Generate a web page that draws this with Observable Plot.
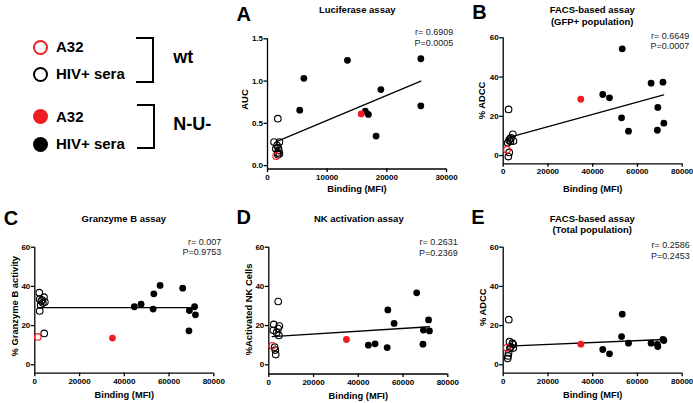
<!DOCTYPE html>
<html><head><meta charset="utf-8">
<script src="https://cdn.jsdelivr.net/npm/d3@7"></script>
<script src="https://cdn.jsdelivr.net/npm/@observablehq/plot@0.6"></script>
<style>
body{margin:0;background:#fff;}
#fig{position:relative;width:693px;height:403px;overflow:hidden;font-family:"Liberation Sans",Arial,Helvetica,sans-serif;background:#fff;}
#fig svg{position:absolute;left:0;top:0;}
.lgc{position:absolute;box-sizing:border-box;border-radius:50%;}
.lgt{position:absolute;font-weight:bold;white-space:nowrap;}
.br{position:absolute;box-sizing:border-box;border:2.7px solid #000;border-left:none;}
</style></head><body><div id="fig"></div>
<script>
// ---------------- DATA ----------------
const RED = "#ee1d23";

// Panel A: Luciferase assay (AUC vs Binding MFI)
const aWtBinding = [1100, 2000, 1600, 1800, 1900, 1700, 2000, 1750, 1400, 1730];
const aWtAUC     = [0.278, 0.278, 0.239, 0.21, 0.18, 0.15, 0.14, 0.13, 0.20, 0.555];
const aWtA32     = [1450, 0.112];
const aNuBinding = [5400, 6100, 13400, 16400, 16900, 18200, 19000, 25700, 25700];
const aNuAUC     = [0.656, 1.033, 1.245, 0.644, 0.605, 0.349, 0.899, 1.264, 0.707];
const aNuA32     = [15700, 0.612];
const aFitX = [1500, 25700], aFitY = [0.283, 1.0];
const aStats = ["r= 0.6909", "P=0.0005"];

// Shared binding for N-U- sera (panels B–E)
const nuBinding = [44500, 47500, 52900, 53200, 56000, 66100, 68900, 69100, 71400, 71800];
const nuA32Binding = 34700;

// Panel B: FACS-based assay (GFP+ population)
const bWtBinding = [2400, 4300, 3500, 2600, 3200, 4600, 2000, 2700, 2300, 3000];
const bWtADCC    = [23.5, 10.8, 9.0, 7.8, 7.2, 7.4, 6.5, 1.6, -0.5, 8.5];
const bWtA32     = [1700, 3.0];
const bNuADCC    = [31.1, 29.4, 19.2, 54.4, 12.4, 36.9, 12.9, 24.5, 37.4, 16.5];
const bNuA32     = 28.7;
const bFitX = [3000, 71700], bFitY = [9.35, 30.9];
const bStats = ["r= 0.6649", "P=0.0007"];

// Panel C: Granzyme B assay
const cWtBinding = [2000, 4100, 2200, 3300, 4500, 2600, 3600, 2200, 4200, 2900];
const cWtGzB     = [36.8, 34.5, 33.5, 33.0, 32.0, 30.5, 31.5, 27.5, 16.0, 32.5];
const cWtA32     = [1300, 14.2];
const cNuGzB     = [29.6, 30.9, 28.4, 36.2, 40.5, 39.1, 17.3, 27.7, 29.6, 25.5];
const cNuA32     = 13.6;
const cFitX = [1800, 71800], cFitY = [29.2, 29.2];
const cStats = ["r= 0.007", "P=0.9753"];

// Panel D: NK activation assay
const dWtBinding = [4200, 2200, 4700, 4200, 2000, 3500, 4500, 2600, 3100, 2900];
const dWtNK      = [32.3, 20.6, 19.8, 18.5, 17.6, 16.5, 15.0, 9.0, 5.2, 7.5];
const dWtA32     = [1500, 9.7];
const dNuNK      = [10.0, 10.7, 8.8, 28.0, 21.1, 36.7, 10.5, 17.7, 22.9, 17.3];
const dNuA32     = 12.9;
const dFitX = [1500, 71800], dFitY = [14.4, 19.4];
const dStats = ["r= 0.2631", "P=0.2369"];

// Panel E: FACS-based assay (Total population)
const eWtBinding = [2500, 2800, 4100, 4500, 4500, 3400, 2400, 2200, 2000, 3000];
const eWtADCC    = [23.0, 11.8, 11.0, 10.3, 8.5, 9.2, 6.0, 4.5, 3.2, 8.5];
const eWtA32     = [1600, 8.7];
const eNuADCC    = [7.8, 5.6, 14.4, 25.8, 11.0, 11.0, 10.4, 9.3, 12.9, 12.4];
const eNuA32     = 10.5;
const eFitX = [1800, 71900], eFitY = [9.5, 12.9];
const eStats = ["r= 0.2586", "P=0.2453"];

const ticksA_x = [0, 10000, 20000, 30000];
const ticksA_y = [0, 0.5, 1.0, 1.5];
const ticksBE_x = [0, 20000, 40000, 60000, 80000];
const ticksBE_y = [0, 20, 40, 60];

// ---------------- DRAWING ----------------
const W = 693, H = 403;
const fig = document.getElementById("fig");
const zip = (xs, ys) => xs.map((x, i) => ({x, y: ys[i]}));

function panel(p) {
  const [l, t, r, b] = p.frame;
  const at = (X, Y, extra) => ({frameAnchor: "top-left", dx: X - l, dy: Y - t, ...extra});
  const marks = [
    Plot.ruleX([0], {stroke: "#000", strokeWidth: 1.3}),
    Plot.ruleY([p.yDomain[0]], {stroke: "#000", strokeWidth: 1.3}),
    Plot.axisX({ticks: p.xTicks, tickFormat: "d", tickSize: 3.5, tickPadding: 1.5, label: null,
      fontSize: 8, fontWeight: "bold", strokeWidth: 1.3, fill: "#000", stroke: "#000"}),
    Plot.axisY({ticks: p.yTicks, tickFormat: p.yFmt, tickSize: 3.5, tickPadding: 1, label: null,
      fontSize: 8, fontWeight: "bold", strokeWidth: 1.3, fill: "#000", stroke: "#000"}),
    Plot.dot(p.wt, {x: "x", y: "y", r: 3.3, stroke: "#000", strokeWidth: 1.1, fill: "none"}),
    Plot.dot([p.wtA32], {x: "x", y: "y", r: 3.3, stroke: RED, strokeWidth: 1.1, fill: "none"}),
    Plot.line(p.fit, {x: "x", y: "y", stroke: "#000", strokeWidth: 1.3}),
    Plot.dot(p.nu, {x: "x", y: "y", r: 3.4, fill: "#000"}),
    Plot.dot([p.nuA32], {x: "x", y: "y", r: 3.4, fill: RED}),
    Plot.text([p.letter], at(p.letterPos[0], p.letterPos[1], {text: d => d, textAnchor: "start", lineAnchor: "bottom", fontSize: 20, fontWeight: "bold", fill: "#000"})),
    ...p.title.map((s, i) => Plot.text([s], at(p.titlePos[0], p.titlePos[1] + i * 11.3, {text: d => d, textAnchor: "middle", lineAnchor: "bottom", fontSize: 9.5, fontWeight: "bold", fill: "#000"}))),
    ...p.stats.map((s, i) => Plot.text([s], at(p.statsPos[0], p.statsPos[1] + i * 10.8, {text: d => d, textAnchor: "end", lineAnchor: "bottom", fontSize: 9, fill: "#222"}))),
    Plot.text(["Binding (MFI)"], at((l + r) / 2, p.xLabY, {text: d => d, textAnchor: "middle", lineAnchor: "bottom", fontSize: 9.3, fontWeight: "bold", fill: "#000"})),
    Plot.text([p.yLabel], at(p.yLabPos[0], p.yLabPos[1], {text: d => d, textAnchor: "middle", lineAnchor: "middle", rotate: -90, fontSize: 9.4, fontWeight: "bold", fill: "#000"}))
  ];
  const svg = Plot.plot({
    width: W, height: H,
    marginLeft: l, marginRight: W - r, marginTop: t, marginBottom: H - b,
    x: {domain: p.xDomain}, y: {domain: p.yDomain},
    style: {background: "transparent", overflow: "visible", fontFamily: "'Liberation Sans', Arial, Helvetica, sans-serif"},
    marks
  });
  fig.appendChild(svg);
}

const panels = [
  {letter: "A", letterPos: [236, 20], title: ["Luciferase assay"], titlePos: [356.7, 12.7],
   frame: [267, 38.3, 446, 168.5], xDomain: [0, 30000], yDomain: [-0.04, 1.5], xTicks: ticksA_x, yTicks: ticksA_y, yFmt: ".1f",
   wt: zip(aWtBinding, aWtAUC), wtA32: {x: aWtA32[0], y: aWtA32[1]},
   nu: zip(aNuBinding, aNuAUC), nuA32: {x: aNuA32[0], y: aNuA32[1]},
   fit: zip(aFitX, aFitY), stats: aStats, statsPos: [452.7, 34.5],
   xLabY: 191, yLabel: "AUC", yLabPos: [244, 99]},
  {letter: "B", letterPos: [471.7, 18.5], title: ["FACS-based assay", "(GFP+ population)"], titlePos: [591.7, 12.7],
   frame: [502.7, 37.3, 681.7, 163.3], xDomain: [0, 80000], yDomain: [-4.2, 60], xTicks: ticksBE_x, yTicks: ticksBE_y, yFmt: "d",
   wt: zip(bWtBinding, bWtADCC), wtA32: {x: bWtA32[0], y: bWtA32[1]},
   nu: zip(nuBinding, bNuADCC), nuA32: {x: nuA32Binding, y: bNuA32},
   fit: zip(bFitX, bFitY), stats: bStats, statsPos: [688.7, 38],
   xLabY: 191, yLabel: "% ADCC", yLabPos: [481.7, 100]},
  {letter: "C", letterPos: [3.3, 224.3], title: ["Granzyme B assay"], titlePos: [123.3, 221],
   frame: [34.3, 246.7, 213.3, 372.7], xDomain: [0, 80000], yDomain: [-4.3, 60], xTicks: ticksBE_x, yTicks: ticksBE_y, yFmt: "d",
   wt: zip(cWtBinding, cWtGzB), wtA32: {x: cWtA32[0], y: cWtA32[1]},
   nu: zip(nuBinding, cNuGzB), nuA32: {x: nuA32Binding, y: cNuA32},
   fit: zip(cFitX, cFitY), stats: cStats, statsPos: [220.7, 244],
   xLabY: 397.7, yLabel: "% Granzyme B activity", yLabPos: [14, 305.7]},
  {letter: "D", letterPos: [236, 223], title: ["NK activation assay"], titlePos: [358.3, 221],
   frame: [268.3, 246.7, 447.3, 373.5], xDomain: [0, 80000], yDomain: [-4.7, 60], xTicks: ticksBE_x, yTicks: ticksBE_y, yFmt: "d",
   wt: zip(dWtBinding, dWtNK), wtA32: {x: dWtA32[0], y: dWtA32[1]},
   nu: zip(nuBinding, dNuNK), nuA32: {x: nuA32Binding, y: dNuA32},
   fit: zip(dFitX, dFitY), stats: dStats, statsPos: [457.3, 244.7],
   xLabY: 398, yLabel: "%Activated NK Cells", yLabPos: [248.3, 309]},
  {letter: "E", letterPos: [470.7, 223], title: ["FACS-based assay", "(Total population)"], titlePos: [591.7, 221],
   frame: [502.7, 246.7, 681.7, 372.7], xDomain: [0, 80000], yDomain: [-4.3, 60], xTicks: ticksBE_x, yTicks: ticksBE_y, yFmt: "d",
   wt: zip(eWtBinding, eWtADCC), wtA32: {x: eWtA32[0], y: eWtA32[1]},
   nu: zip(nuBinding, eNuADCC), nuA32: {x: nuA32Binding, y: eNuA32},
   fit: zip(eFitX, eFitY), stats: eStats, statsPos: [689.3, 247.5],
   xLabY: 397.7, yLabel: "% ADCC", yLabPos: [482.7, 306.7]}
];
panels.forEach(panel);

// ---------------- LEGEND ----------------
const legendItems = [
  {label: "A32", color: RED, filled: false, cy: 47.3},
  {label: "HIV+ sera", color: "#000", filled: false, cy: 74},
  {label: "A32", color: RED, filled: true, cy: 116.7},
  {label: "HIV+ sera", color: "#000", filled: true, cy: 144}
];
legendItems.forEach(it => {
  const c = document.createElement("div");
  c.className = "lgc";
  const d = 15;
  Object.assign(c.style, {left: (40.7 - d / 2) + "px", top: (it.cy - d / 2) + "px", width: d + "px", height: d + "px",
    background: it.filled ? it.color : "transparent", border: it.filled ? "none" : `2.7px solid ${it.color}`});
  fig.appendChild(c);
  const t = document.createElement("div");
  t.className = "lgt";
  Object.assign(t.style, {left: "56px", top: (it.cy - 10) + "px", height: "20px", lineHeight: "20px", fontSize: "15px"});
  t.textContent = it.label;
  fig.appendChild(t);
});
const groups = [
  {label: "wt", box: [136, 37.3, 18.3, 45.4], cy: 57.3},
  {label: "N-U-", box: [137.3, 104, 17.7, 45.3], cy: 124}
];
groups.forEach(g => {
  const b = document.createElement("div");
  b.className = "br";
  Object.assign(b.style, {left: g.box[0] + "px", top: g.box[1] + "px", width: g.box[2] + "px", height: g.box[3] + "px"});
  fig.appendChild(b);
  const t = document.createElement("div");
  t.className = "lgt";
  Object.assign(t.style, {left: "173.3px", top: (g.cy - 11) + "px", height: "22px", lineHeight: "22px", fontSize: "18px"});
  t.textContent = g.label;
  fig.appendChild(t);
});
</script></body></html>
